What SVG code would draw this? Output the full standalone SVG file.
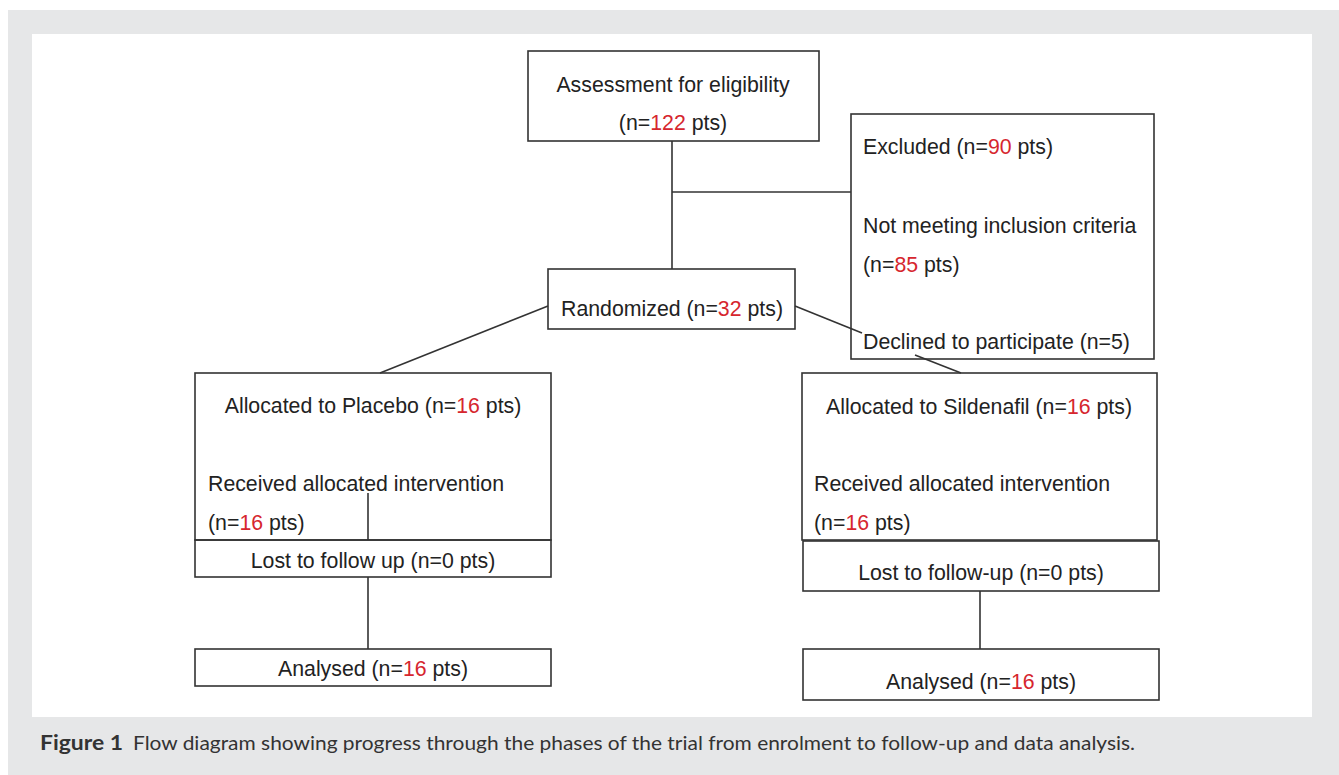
<svg xmlns="http://www.w3.org/2000/svg" width="1339" height="775" viewBox="0 0 1339 775">
<style>
.box{fill:none;stroke:#333;stroke-width:1.6}
.ln{stroke:#333;stroke-width:1.6;fill:none}
.t{font-family:"Liberation Sans",Arial,sans-serif;font-size:21.3px;fill:#222}
.c{text-anchor:middle}
.r{fill:#d6262e}
.cap{font-family:"Lato","Liberation Sans",sans-serif;font-size:20px;fill:#333}
</style>
<rect x="8" y="10" width="1331" height="765" fill="#e6e7e8"/>
<rect x="32" y="34" width="1280" height="683" fill="#fff"/>
<g id="connectors">
<line class="ln" x1="672" y1="141" x2="672" y2="269"/>
<line class="ln" x1="672" y1="192" x2="851" y2="192"/>
<line class="ln" x1="548" y1="306" x2="380" y2="373"/>
<line class="ln" x1="795" y1="306" x2="862" y2="333"/>
<line class="ln" x1="915" y1="355" x2="961" y2="373"/>
<line class="ln" x1="368" y1="493" x2="368" y2="540"/>
<line class="ln" x1="368" y1="577" x2="368" y2="649"/>
<line class="ln" x1="980" y1="591" x2="980" y2="649"/>
</g>
<g id="assessment">
<rect class="box" x="528" y="51" width="291" height="90"/>
<text class="t c" x="673" y="92">Assessment for eligibility</text>
<text class="t c" x="673" y="130">(n=<tspan class="r">122</tspan> pts)</text>
</g>
<g id="excluded">
<rect class="box" x="851" y="114" width="303" height="245"/>
<text class="t" x="863" y="154">Excluded (n=<tspan class="r">90</tspan> pts)</text>
<text class="t" x="863" y="233">Not meeting inclusion criteria</text>
<text class="t" x="863" y="272">(n=<tspan class="r">85</tspan> pts)</text>
<text class="t" x="863" y="349">Declined to participate (n=5)</text>
</g>
<g id="randomized">
<rect class="box" x="548" y="269" width="247" height="60"/>
<text class="t c" x="672" y="316">Randomized (n=<tspan class="r">32</tspan> pts)</text>
</g>
<g id="placebo">
<rect class="box" x="195" y="373" width="356" height="167"/>
<text class="t c" x="373" y="413">Allocated to Placebo (n=<tspan class="r">16</tspan> pts)</text>
<text class="t" x="208" y="491">Received allocated intervention</text>
<text class="t" x="208" y="530">(n=<tspan class="r">16</tspan> pts)</text>
</g>
<g id="placebo-lost">
<rect class="box" x="195" y="540" width="356" height="37"/>
<text class="t c" x="373" y="568">Lost to follow up (n=0 pts)</text>
</g>
<g id="placebo-analysed">
<rect class="box" x="195" y="649" width="356" height="37"/>
<text class="t c" x="373" y="676">Analysed (n=<tspan class="r">16</tspan> pts)</text>
</g>
<g id="sildenafil">
<rect class="box" x="802" y="373" width="355" height="167"/>
<text class="t c" x="979" y="414">Allocated to Sildenafil (n=<tspan class="r">16</tspan> pts)</text>
<text class="t" x="814" y="491">Received allocated intervention</text>
<text class="t" x="814" y="530">(n=<tspan class="r">16</tspan> pts)</text>
</g>
<g id="sildenafil-lost">
<rect class="box" x="803" y="541" width="356" height="50"/>
<text class="t c" x="981" y="580">Lost to follow-up (n=0 pts)</text>
</g>
<g id="sildenafil-analysed">
<rect class="box" x="803" y="649" width="356" height="51"/>
<text class="t c" x="981" y="689">Analysed (n=<tspan class="r">16</tspan> pts)</text>
</g>
<g id="caption">
<text class="cap" x="40" y="750" font-weight="bold" font-size="21px" fill="#222" textLength="83" lengthAdjust="spacingAndGlyphs">Figure 1</text>
<text class="cap" x="133" y="750" textLength="1002" lengthAdjust="spacingAndGlyphs">Flow diagram showing progress through the phases of the trial from enrolment to follow-up and data analysis.</text>
</g>
</svg>
